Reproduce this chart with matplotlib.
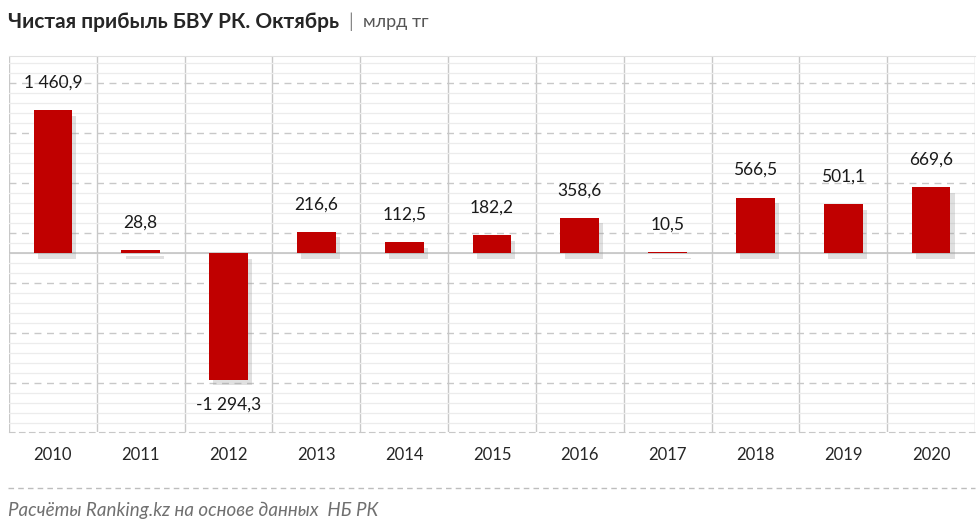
import matplotlib
matplotlib.use("Agg")
import matplotlib.pyplot as plt
import matplotlib.patheffects as pe
from matplotlib.ticker import MultipleLocator, NullFormatter

years = ["2010", "2011", "2012", "2013", "2014", "2015", "2016", "2017", "2018", "2019", "2020"]
values = [1460.9, 28.8, -1294.3, 216.6, 112.5, 182.2, 358.6, 10.5, 566.5, 501.1, 669.6]
labels = ["1 460,9", "28,8", "-1 294,3", "216,6", "112,5", "182,2", "358,6", "10,5", "566,5", "501,1", "669,6"]

title_main = "Чистая прибыль БВУ РК. Октябрь"
title_unit = "млрд тг"
footer = "Расчёты Ranking.kz на основе данных  НБ РК"

FONT = ["Lato", "DejaVu Sans"]
plt.rcParams["font.family"] = FONT

fig = plt.figure(figsize=(9.8, 5.28), dpi=100)
W, H = 980, 528
ax = fig.add_axes([9 / W, 1 - 432 / H, (975 - 9) / W, (432 - 56) / H])

k = 10.216
ax.set_ylim(-(432 - 253) * k, (253 - 56) * k)
ax.set_xlim(-0.5, len(years) - 0.5)

# grid
ax.yaxis.set_major_locator(MultipleLocator(511, offset=204))
ax.yaxis.set_minor_locator(MultipleLocator(102.2, offset=204))
ax.yaxis.set_major_formatter(NullFormatter())
ax.tick_params(axis="y", which="both", length=0)
ax.grid(axis="y", which="minor", color="#ececec", lw=0.9, ls="-")
ax.grid(axis="y", which="major", color="#c8c8c8", lw=1.0, ls=(0, (5, 4)))
ax.set_axisbelow(True)
for xb in range(len(years) + 1):
    ax.axvline(xb - 0.5, color="#c8c8c8", lw=1.0, zorder=0.5)
ax.axhline(0, color="#c4c4c4", lw=1.2, zorder=0.6)

for s in ["left", "right"]:
    ax.spines[s].set_visible(False)
ax.spines["top"].set_color("#e0e0e0")
ax.spines["bottom"].set_color("#c8c8c8")
ax.spines["bottom"].set_linestyle((0, (5, 4)))

x = list(range(len(years)))
bars = ax.bar(x, values, width=0.44, color="#c00000", zorder=3)
for b in bars:
    b.set_path_effects([pe.SimplePatchShadow(offset=(3, -4), shadow_rgbFace="#999999", alpha=0.3), pe.Normal()])

ax.set_xticks(x)
ax.set_xticklabels(years, fontsize=12, color="#262626")
ax.tick_params(axis="x", length=0, pad=11)

for xi, v, lab in zip(x, values, labels):
    if v >= 0:
        ax.annotate(lab, (xi, v), xytext=(0, 14), textcoords="offset points",
                    ha="center", va="bottom", fontsize=12.5, color="#1a1a1a")
    else:
        ax.annotate(lab, (xi, v), xytext=(0, -12), textcoords="offset points",
                    ha="center", va="top", fontsize=12.5, color="#1a1a1a")

# title
t1 = fig.text(8 / W, 1 - 22 / H, title_main, fontsize=15, fontweight="bold",
              color="#262626", va="center", ha="left")
fig.canvas.draw()
bb = t1.get_window_extent()
x1 = bb.x1 / (W)
t2 = fig.text(x1 + 9 / W, 1 - 22 / H, "|", fontsize=13.5, color="#888888", va="center", ha="left")
fig.canvas.draw()
bb2 = t2.get_window_extent()
fig.text(bb2.x1 / W + 10 / W, 1 - 22 / H, title_unit, fontsize=13, color="#555555",
         va="center", ha="left")

# footer
fig.add_artist(plt.Line2D([8 / W, 975 / W], [1 - 488 / H, 1 - 488 / H], transform=fig.transFigure,
                          color="#bdbdbd", lw=1.0, ls=(0, (4, 3))))
fig.text(8 / W, 1 - 510 / H, footer, fontsize=13.5, style="italic", color="#707070",
         va="center", ha="left")

fig.savefig("out.png", dpi=100)
